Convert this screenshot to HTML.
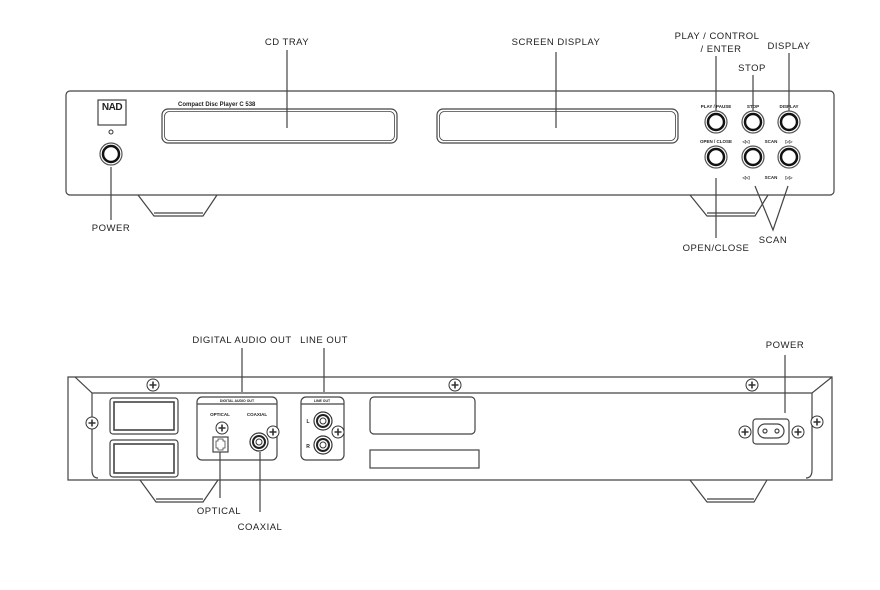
<!DOCTYPE html>
<html><head><meta charset="utf-8"><style>html,body{margin:0;background:#fff}svg{display:block}</style></head><body>
<svg width="880" height="590" viewBox="0 0 880 590" xmlns="http://www.w3.org/2000/svg" font-family="Liberation Sans, sans-serif">
<defs>
<g id="scr"><circle r="6" fill="#fff" stroke="#333" stroke-width="1"/><path d="M-3.5 0H3.5M0 -3.5V3.5" stroke="#333" stroke-width="1.6"/></g>
<g id="btn"><circle r="11" fill="#fff" stroke="#555" stroke-width="1.2"/><circle r="8" fill="#fff" stroke="#111" stroke-width="2.5"/></g>
<g id="rca"><circle r="9" fill="#fff" stroke="#333" stroke-width="1.2"/><circle r="6" fill="none" stroke="#222" stroke-width="2"/><circle r="3" fill="none" stroke="#333" stroke-width="1"/></g>
</defs>
<g fill="none" stroke="#444" stroke-width="1.2">
<rect x="66" y="91" width="768" height="104" rx="4"/>
<path d="M138 195L154 216H203L217 195"/><path d="M154 213H203"/>
<path d="M690 195L707 216H755L768 195"/><path d="M707 213H755"/>
<rect x="162" y="109" width="235" height="34" rx="6"/><rect x="164.5" y="111.5" width="230" height="29" rx="5" stroke-width="0.8"/>
<rect x="437" y="109" width="241" height="34" rx="6"/><rect x="439.5" y="111.5" width="236" height="29" rx="5" stroke-width="0.8"/>
<rect x="98" y="100" width="28" height="25"/>
<path d="M111 167V220M287 50V128M556 52V128M716 56V112M753 75V112M789 53V112M716 178V238M755 186L773 230L788 186"/>
<path d="M75 377H832V480H68V377Z"/>
<path d="M92 393H812M75 377L92 393V470Q92 478 98 478M832 377L812 393V470Q812 478 806 478"/>
<path d="M140 480L156 502H203L218 480"/><path d="M156 499H203"/>
<path d="M690 480L707 502H754L767 480"/><path d="M707 499H754"/>
<rect x="110" y="398" width="68" height="36" rx="3"/><rect x="114" y="402" width="60" height="28" stroke-width="1.6"/>
<rect x="110" y="440" width="68" height="37" rx="3"/><rect x="114" y="444" width="60" height="29" stroke-width="1.6"/>
<rect x="197" y="397" width="80" height="63" rx="5"/><path d="M197 404H277"/>
<rect x="301" y="397" width="43" height="63" rx="5"/><path d="M301 404H344"/>
<rect x="370" y="397" width="105" height="37" rx="4"/>
<rect x="370" y="450" width="109" height="18"/>
<rect x="213" y="437" width="15" height="15"/><path d="M216 441h2v-2h5v2h2v7h-2v2h-5v-2h-2z" stroke-width="0.8"/>
<rect x="753" y="419" width="36" height="25" rx="3"/>
<path d="M765 424h12a7 7 0 0 1 0 14h-12a7 7 0 0 1 0-14z"/>
<circle cx="765" cy="431" r="2"/><circle cx="777" cy="431" r="2"/>
<path d="M242 348V392M324 348V392M785 355V413M220 452V498M260 452V512"/>
</g>
<circle cx="111" cy="132" r="2" fill="#fff" stroke="#333"/>
<use href="#btn" x="111" y="154"/>
<use href="#btn" x="716" y="122"/><use href="#btn" x="753" y="122"/><use href="#btn" x="789" y="122"/>
<use href="#btn" x="716" y="157"/><use href="#btn" x="753" y="157"/><use href="#btn" x="789" y="157"/>
<use href="#scr" x="153" y="385"/><use href="#scr" x="455" y="385"/><use href="#scr" x="752" y="385"/>
<use href="#scr" x="92" y="423"/><use href="#scr" x="817" y="422"/>
<use href="#scr" x="222" y="428"/><use href="#scr" x="273" y="432"/><use href="#scr" x="338" y="432"/>
<use href="#scr" x="745" y="432"/><use href="#scr" x="798" y="432"/>
<use href="#rca" x="259" y="442"/><use href="#rca" x="323" y="421"/><use href="#rca" x="323" y="445"/>
<g fill="#222" font-weight="bold" text-anchor="middle">
<text x="112" y="110" font-size="10" font-family="Liberation Sans, sans-serif" letter-spacing="-0.5">NAD</text>
<text x="178" y="106" font-size="6" text-anchor="start">Compact Disc Player C 538</text>
<text x="716" y="108" font-size="4.5">PLAY / PAUSE</text><text x="753" y="108" font-size="4.5">STOP</text><text x="789" y="108" font-size="4.5">DISPLAY</text>
<text x="716" y="143" font-size="4.5">OPEN / CLOSE</text>
<text x="746" y="143" font-size="4.5">◁◁</text><text x="771" y="143" font-size="4.5">SCAN</text><text x="789" y="143" font-size="4.5">▷▷</text>
<text x="746" y="179" font-size="4.5">◁◁</text><text x="771" y="179" font-size="4.5">SCAN</text><text x="789" y="179" font-size="4.5">▷▷</text>
<text x="237" y="402" font-size="3.5">DIGITAL AUDIO OUT</text><text x="322" y="402" font-size="3.5">LINE OUT</text>
<text x="220" y="416" font-size="4.5">OPTICAL</text><text x="257" y="416" font-size="4.5">COAXIAL</text>
<text x="308" y="423" font-size="5">L</text><text x="308" y="448" font-size="5">R</text>
</g>
<g fill="#222" font-size="9.5" text-anchor="middle" letter-spacing="0.5">
<text x="287" y="45">CD TRAY</text><text x="556" y="45">SCREEN DISPLAY</text>
<text x="717" y="39">PLAY / CONTROL</text><text x="721" y="52">/ ENTER</text>
<text x="752" y="71">STOP</text><text x="789" y="49">DISPLAY</text>
<text x="111" y="231">POWER</text><text x="716" y="251">OPEN/CLOSE</text><text x="773" y="243">SCAN</text>
<text x="242" y="343">DIGITAL AUDIO OUT</text><text x="324" y="343">LINE OUT</text>
<text x="785" y="348">POWER</text><text x="219" y="514">OPTICAL</text><text x="260" y="530">COAXIAL</text>
</g>
</svg>
</body></html>
